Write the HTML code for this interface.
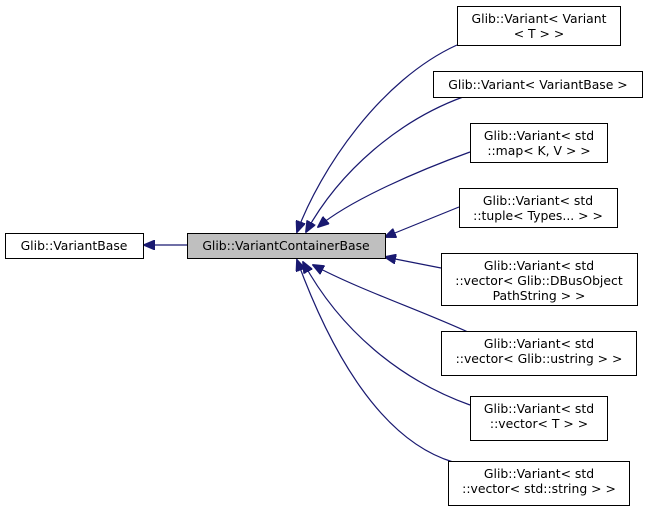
<!DOCTYPE html>
<html><head><style>
body{margin:0;background:#fff;width:649px;height:512px;overflow:hidden;font-family:"DejaVu Sans","Liberation Sans",sans-serif}
</style></head><body>
<svg width="649" height="512" viewBox="0 0 649 512" xmlns="http://www.w3.org/2000/svg" font-family="DejaVu Sans, Liberation Sans, sans-serif" font-size="12.4">
<defs><marker id="a" markerWidth="12" markerHeight="10" refX="11" refY="5" orient="auto" markerUnits="userSpaceOnUse"><path d="M0,0 L12,5 L0,10 Z" fill="#191970" stroke="#191970"/></marker></defs>
<g fill="none" stroke="#191970" stroke-width="1.2">
<path d="M187,245 L144,245" marker-end="url(#a)"/>
<path d="M457,45 C380,80 320,170 297,232" marker-end="url(#a)"/>
<path d="M463,97 C400,120 340,170 306,232" marker-end="url(#a)"/>
<path d="M470,152 C420,170 350,200 318,227" marker-end="url(#a)"/>
<path d="M459,207 L385,237" marker-end="url(#a)"/>
<path d="M441,268 L385,257" marker-end="url(#a)"/>
<path d="M470,333 C420,310 360,290 313,265" marker-end="url(#a)"/>
<path d="M470,405 C400,380 340,330 303,262" marker-end="url(#a)"/>
<path d="M453,462 C380,440 330,350 297,260" marker-end="url(#a)"/>
</g>
<g stroke="#000" stroke-width="1" fill="#fff">
<rect x="5.5" y="233.5" width="138" height="25"/>
<rect x="187.5" y="233.5" width="198" height="25" fill="#bfbfbf"/>
<rect x="457.5" y="6.5" width="163" height="39"/>
<rect x="433.5" y="71.5" width="209" height="26"/>
<rect x="470.5" y="123.5" width="137" height="39"/>
<rect x="459.5" y="188.5" width="158" height="39"/>
<rect x="441.5" y="253.5" width="196" height="52"/>
<rect x="441.5" y="331.5" width="195" height="44"/>
<rect x="470.5" y="396.5" width="137" height="44"/>
<rect x="448.5" y="461.5" width="181" height="44"/>
</g>
<g fill="#000" text-anchor="middle">
<text x="74" y="250">Glib::VariantBase</text>
<text x="286" y="250">Glib::VariantContainerBase</text>
<text x="539" y="23">Glib::Variant&lt; Variant</text>
<text x="539" y="38">&lt; T &gt; &gt;</text>
<text x="538" y="89">Glib::Variant&lt; VariantBase &gt;</text>
<text x="539" y="140">Glib::Variant&lt; std</text>
<text x="539" y="155">::map&lt; K, V &gt; &gt;</text>
<text x="538" y="205">Glib::Variant&lt; std</text>
<text x="538" y="220">::tuple&lt; Types... &gt; &gt;</text>
<text x="539" y="270">Glib::Variant&lt; std</text>
<text x="539" y="285">::vector&lt; Glib::DBusObject</text>
<text x="539" y="300">PathString &gt; &gt;</text>
<text x="539" y="348">Glib::Variant&lt; std</text>
<text x="539" y="363">::vector&lt; Glib::ustring &gt; &gt;</text>
<text x="539" y="413">Glib::Variant&lt; std</text>
<text x="539" y="428">::vector&lt; T &gt; &gt;</text>
<text x="539" y="478">Glib::Variant&lt; std</text>
<text x="539" y="493">::vector&lt; std::string &gt; &gt;</text>
</g>
</svg>
</body></html>
